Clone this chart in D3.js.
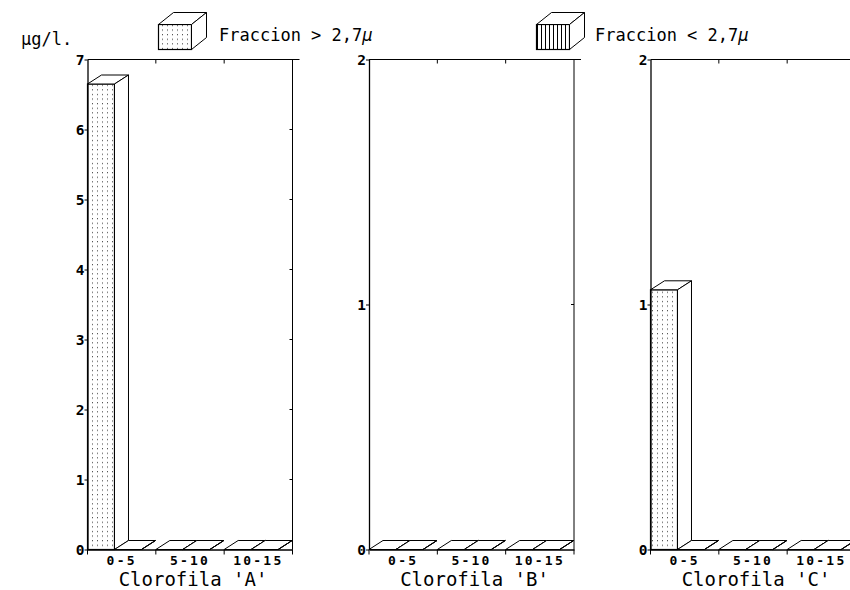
<!DOCTYPE html>
<html><head><meta charset="utf-8">
<script src="https://cdn.jsdelivr.net/npm/d3@7/dist/d3.min.js"></script>
<style>body{margin:0;background:#fff}svg{display:block}</style>
</head><body>
<script>
// ---- data ----
const categories = ["0-5", "5-10", "10-15"];
const seriesNames = ["Fraccion > 2,7", "Fraccion < 2,7"];
const panelTitles = ["Clorofila 'A'", "Clorofila 'B'", "Clorofila 'C'"];
const fraccionMayor = [[6.65, 0, 0], [0, 0, 0], [1.06, 0, 0]];
const fraccionMenor = [[0, 0, 0], [0, 0, 0], [0, 0, 0]];
const yMaxima = [7, 2, 2];
const yTicks = [[0, 1, 2, 3, 4, 5, 6, 7], [0, 1, 2], [0, 1, 2]];
const yUnit = "\u03bcg/l.";

// ---- layout ----
const W = 850, H = 590;
const panelW = 205, firstLeft = 87.5, panelStep = 281.5;
const y0px = 549.5, yTopPx = 59.5;
const depthX = 14, depthY = 9;
const monoFont = "'DejaVu Sans Mono', 'Liberation Mono', monospace";

const svg = d3.select("body").append("svg").attr("width", W).attr("height", H);
const defs = svg.append("defs");
const pd = defs.append("pattern").attr("id", "dots").attr("patternUnits", "userSpaceOnUse")
  .attr("width", 5).attr("height", 4.6);
pd.append("rect").attr("width", 5).attr("height", 4.6).attr("fill", "#fff");
pd.append("rect").attr("x", 2).attr("y", 2).attr("width", 1).attr("height", 1).attr("fill", "#333");
const pv = defs.append("pattern").attr("id", "vlines").attr("patternUnits", "userSpaceOnUse")
  .attr("width", 4).attr("height", 4);
pv.append("rect").attr("width", 4).attr("height", 4).attr("fill", "#fff");
pv.append("line").attr("x1", 1.5).attr("x2", 1.5).attr("y1", 0).attr("y2", 4).attr("stroke", "#000").attr("stroke-width", 1);
const fills = ["url(#dots)", "url(#vlines)"];

function cube(g, x, yTop, w, yBottom, dx, dy, fill) {
  const line = d3.line();
  g.append("rect").attr("x", x).attr("y", yTop).attr("width", w).attr("height", Math.max(0, yBottom - yTop))
    .attr("fill", fill).attr("stroke", "#000").attr("stroke-width", 1.2);
  g.append("path").attr("d", line([[x, yTop], [x + dx, yTop - dy], [x + w + dx, yTop - dy], [x + w, yTop]]) + "Z")
    .attr("fill", "#fff").attr("stroke", "#000").attr("stroke-width", 1);
  g.append("path").attr("d", line([[x + w, yTop], [x + w + dx, yTop - dy], [x + w + dx, yBottom - dy], [x + w, yBottom]]) + "Z")
    .attr("fill", "#fff").attr("stroke", "#000").attr("stroke-width", 1);
}

// ---- legend ----
const legend = svg.append("g");
const legendPos = [[158.5, 219], [536.5, 595]];
seriesNames.forEach((name, i) => {
  const [cx, tx] = legendPos[i];
  cube(legend, cx, 24.5, 33, 49.5, 15, 12, fills[i]);
  const t = legend.append("text").attr("x", tx).attr("y", 41).attr("font-family", monoFont)
    .attr("font-size", 17).attr("fill", "#000").text(name);
  t.append("tspan").attr("font-style", "italic").text("\u03bc");
});
svg.append("text").attr("x", 21).attr("y", 45).attr("font-family", monoFont).attr("font-size", 17)
  .attr("fill", "#000").text(yUnit);

// ---- panels ----
panelTitles.forEach((title, p) => {
  const left = firstLeft + p * panelStep;
  const g = svg.append("g");
  const x0 = d3.scaleBand().domain(categories).range([left, left + panelW]).padding(0);
  const x1 = d3.scaleBand().domain(seriesNames).range([0, x0.bandwidth() * 0.79]).padding(0);
  const y = d3.scaleLinear().domain([0, yMaxima[p]]).range([y0px, yTopPx]);

  g.append("line").attr("x1", left).attr("x2", left + panelW + 7).attr("y1", y(yMaxima[p])).attr("y2", y(yMaxima[p])).attr("stroke", "#000");
  g.append("line").attr("x1", left + panelW).attr("x2", left + panelW).attr("y1", y(yMaxima[p])).attr("y2", y(0)).attr("stroke", "#000");
  g.selectAll(".rt").data(yTicks[p].slice(1, -1)).join("line")
    .attr("x1", left + panelW - 3).attr("x2", left + panelW).attr("y1", d => y(d)).attr("y2", d => y(d)).attr("stroke", "#000");
  g.selectAll(".tt").data(categories.slice(1)).join("line")
    .attr("x1", d => x0(d)).attr("x2", d => x0(d)).attr("y1", y(yMaxima[p])).attr("y2", y(yMaxima[p]) + 4).attr("stroke", "#000");

  const values = [fraccionMayor[p], fraccionMenor[p]];
  categories.forEach((c, ci) => {
    seriesNames.forEach((s, si) => {
      const v = values[si][ci];
      cube(g, x0(c) + x1(s), y(v), x1.bandwidth(), y(0), depthX, depthY, fills[si]);
    });
  });

  const yAxis = d3.axisLeft(y).tickValues(yTicks[p]).tickSize(3).tickSizeOuter(0).tickFormat(d3.format("d"));
  const ya = g.append("g").attr("transform", `translate(${left},0)`).call(yAxis);
  ya.select(".domain").attr("stroke-width", 1.3);
  ya.selectAll("text").attr("font-family", monoFont).attr("font-weight", "bold").attr("font-size", 14.5).attr("x", -3).attr("fill", "#000");
  const xAxis = d3.axisBottom(x0).tickSize(0).tickPadding(6);
  const xa = g.append("g").attr("transform", `translate(0,${y(0)})`).call(xAxis);
  xa.select(".domain").attr("stroke-width", 1.3);
  xa.selectAll("text").attr("font-family", monoFont).attr("font-weight", "bold").attr("font-size", 13)
    .attr("letter-spacing", 2.2).attr("fill", "#000");
  g.selectAll(".bt").data(categories.map(c => x0(c)).concat([left + panelW])).join("line")
    .attr("x1", d => d).attr("x2", d => d).attr("y1", y(0)).attr("y2", y(0) + 5).attr("stroke", "#000");
  g.append("text").attr("x", left + panelW / 2 + 3).attr("y", 586).attr("text-anchor", "middle")
    .attr("font-family", monoFont).attr("font-size", 19).attr("fill", "#000").text(title);
});
</script>
</body></html>
